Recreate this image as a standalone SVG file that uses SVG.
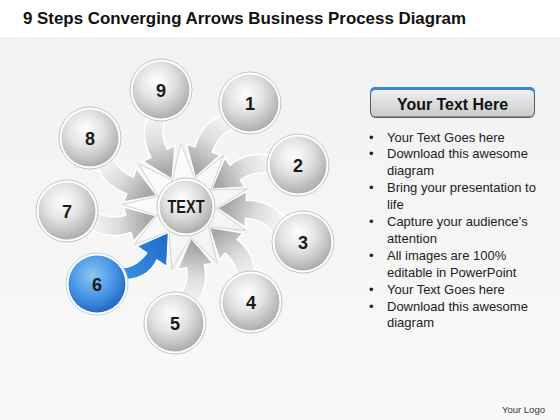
<svg xmlns="http://www.w3.org/2000/svg" xmlns:xlink="http://www.w3.org/1999/xlink" width="560" height="420" viewBox="0 0 560 420">
<defs>
<style>
.ttl{font-family:"Liberation Sans",Arial,sans-serif;font-weight:bold;font-size:17px;fill:#111}
.num{font-family:"Liberation Sans",Arial,sans-serif;font-weight:bold;font-size:18px;fill:#1a1a1a;text-anchor:middle}
.bul{font-family:"Liberation Sans",Arial,sans-serif;font-size:13px;fill:#222}
.ring{fill:#ffffff;stroke:#c4c4c4;stroke-width:1}
.ball{fill:url(#gBall)}
.garrow{fill:url(#gArrow);stroke:#ffffff;stroke-width:1.5;stroke-linejoin:round}
</style>
<linearGradient id="bg" x1="0" y1="0" x2="0" y2="1">
<stop offset="0" stop-color="#f1f1f1"/><stop offset="1" stop-color="#f9f9f9"/>
</linearGradient>
<radialGradient id="gBall" cx="0.42" cy="0.35" r="0.7">
<stop offset="0" stop-color="#ffffff"/><stop offset="0.45" stop-color="#e2e2e2"/><stop offset="1" stop-color="#a6a6a6"/>
</radialGradient>
<radialGradient id="gBlue" cx="0.42" cy="0.35" r="0.7">
<stop offset="0" stop-color="#8fc6f4"/><stop offset="0.5" stop-color="#4d9be6"/><stop offset="1" stop-color="#1c63c2"/>
</radialGradient>
<linearGradient id="gArrow" gradientUnits="userSpaceOnUse" x1="118" y1="276" x2="162" y2="240">
<stop offset="0" stop-color="#f7f7f7"/><stop offset="0.5" stop-color="#dcdcdc"/><stop offset="1" stop-color="#a8a8a8"/>
</linearGradient>
<linearGradient id="gBlueArrow" gradientUnits="userSpaceOnUse" x1="120" y1="276" x2="165" y2="240">
<stop offset="0" stop-color="#3d8fe0"/><stop offset="1" stop-color="#1e6fcc"/>
</linearGradient>
<linearGradient id="gHdr" x1="0" y1="0" x2="0" y2="1">
<stop offset="0" stop-color="#f0f0f0"/><stop offset="1" stop-color="#cacaca"/>
</linearGradient>
<linearGradient id="gStar" x1="0" y1="0" x2="1" y2="1">
<stop offset="0" stop-color="#ffffff"/><stop offset="1" stop-color="#f0f0f0"/>
</linearGradient>
<path id="arrowShape" d="M116,267 Q133,267 144.5,251.3 L137.1,246.2 L168.4,232.5 L166.7,266.6 L159.3,261.5 Q145,285 116,285 Z"/>
</defs>

<rect x="0" y="0" width="560" height="420" fill="url(#bg)"/>
<rect x="0" y="0" width="560" height="37" fill="#ffffff"/>

<text class="ttl" x="23" y="24" textLength="443" lengthAdjust="spacingAndGlyphs">9 Steps Converging Arrows Business Process Diagram</text>

<g id="connectors">
<use xlink:href="#arrowShape" class="garrow" transform="rotate(118.8 186 207)"/>
<use xlink:href="#arrowShape" class="garrow" transform="rotate(162.5 186 207)"/>
<use xlink:href="#arrowShape" class="garrow" transform="rotate(200.3 186 207)"/>
<use xlink:href="#arrowShape" class="garrow" transform="rotate(237.6 186 207)"/>
<use xlink:href="#arrowShape" class="garrow" transform="rotate(276.5 186 207)"/>
<use xlink:href="#arrowShape" class="garrow" transform="rotate(-43.7 186 207)"/>
<use xlink:href="#arrowShape" class="garrow" transform="rotate(39 186 207)"/>
<use xlink:href="#arrowShape" class="garrow" transform="rotate(76.6 186 207)"/>
<polygon points="180.7,143.2 194.8,178.3 223.6,155.2 210.5,189.8 247.4,188.9 216,208.2 245.5,230.6 208.6,226.7 217,263 190.7,236.6 171.9,269.4 169,231.7 134.2,244.5 157.2,215.5 122.1,204.3 158,196.2 138.7,163.9 172.6,180.2" fill="url(#gStar)" stroke="#c9c9c9" stroke-width="0.8" stroke-linejoin="round"/>
<path d="M120,268 Q136,268 147,253 L137.1,246.2 L168.4,232.5 L166.7,266.6 L156.8,259.8 Q148,280 120,280 Z" fill="url(#gBlueArrow)" stroke="#ffffff" stroke-width="1.2" stroke-linejoin="round"/>
</g>

<g id="node-center">
<circle class="ring" cx="186" cy="207" r="29"/>
<circle class="ball" cx="186" cy="207" r="26.5"/>
<text class="num" x="186" y="213" font-size="15" textLength="37" lengthAdjust="spacingAndGlyphs">TEXT</text>
</g>
<g id="node-9">
<circle class="ring" cx="161" cy="90" r="31"/>
<circle class="ball" cx="161" cy="90" r="28.5"/>
<text class="num" x="161" y="96.5">9</text>
</g>
<g id="node-1">
<circle class="ring" cx="250" cy="103" r="31"/>
<circle class="ball" cx="250" cy="103" r="28.5"/>
<text class="num" x="250" y="109.5">1</text>
</g>
<g id="node-2">
<circle class="ring" cx="298" cy="165" r="31"/>
<circle class="ball" cx="298" cy="165" r="28.5"/>
<text class="num" x="298" y="171.5">2</text>
</g>
<g id="node-3">
<circle class="ring" cx="303" cy="242" r="31"/>
<circle class="ball" cx="303" cy="242" r="28.5"/>
<text class="num" x="303" y="248.5">3</text>
</g>
<g id="node-4">
<circle class="ring" cx="251" cy="302" r="31"/>
<circle class="ball" cx="251" cy="302" r="28.5"/>
<text class="num" x="251" y="308.5">4</text>
</g>
<g id="node-5">
<circle class="ring" cx="175" cy="323" r="31"/>
<circle class="ball" cx="175" cy="323" r="28.5"/>
<text class="num" x="175" y="329.5">5</text>
</g>
<g id="node-6">
<circle cx="97" cy="284" r="31" fill="#ffffff" stroke="#bcd6ee" stroke-width="1"/>
<circle cx="97" cy="284" r="28.5" fill="url(#gBlue)"/>
<text class="num" x="97" y="290.5">6</text>
</g>
<g id="node-7">
<circle class="ring" cx="67" cy="211" r="31"/>
<circle class="ball" cx="67" cy="211" r="28.5"/>
<text class="num" x="67" y="217.5">7</text>
</g>
<g id="node-8">
<circle class="ring" cx="90" cy="138" r="31"/>
<circle class="ball" cx="90" cy="138" r="28.5"/>
<text class="num" x="90" y="144.5">8</text>
</g>

<g id="header">
<rect x="370" y="87" width="165" height="31" rx="6" fill="#5a5a5a"/>
<rect x="370" y="87" width="165" height="10" rx="5" fill="#3a86d6"/>
<rect x="371" y="90" width="163" height="26.5" rx="4.5" fill="url(#gHdr)"/>
<text class="ttl" x="452.5" y="109.5" font-size="16" text-anchor="middle" textLength="111" lengthAdjust="spacingAndGlyphs">Your Text Here</text>
</g>

<g id="bullets" class="bul">
<text x="369" y="141.5">•</text><text x="387" y="141.5">Your Text Goes here</text>
<text x="369" y="158.4">•</text><text x="387" y="158.4">Download this awesome</text>
<text x="387" y="175.3">diagram</text>
<text x="369" y="192.2">•</text><text x="387" y="192.2">Bring your presentation to</text>
<text x="387" y="209.1">life</text>
<text x="369" y="226">•</text><text x="387" y="226">Capture your audience’s</text>
<text x="387" y="242.9">attention</text>
<text x="369" y="259.8">•</text><text x="387" y="259.8">All images are 100%</text>
<text x="387" y="276.7">editable in PowerPoint</text>
<text x="369" y="293.6">•</text><text x="387" y="293.6">Your Text Goes here</text>
<text x="369" y="310.5">•</text><text x="387" y="310.5">Download this awesome</text>
<text x="387" y="327.4">diagram</text>
</g>

<text x="502" y="412.5" font-family="'Liberation Sans',Arial,sans-serif" font-size="9.5" fill="#333">Your Logo</text>
</svg>
